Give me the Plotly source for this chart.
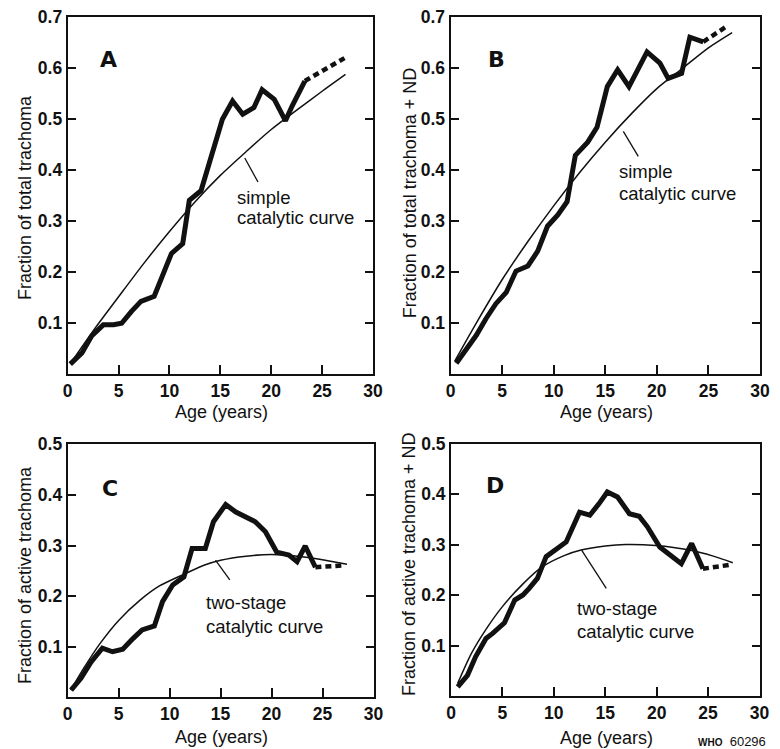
import plotly.graph_objects as go

W, H = 780, 749

# ---------------- data ----------------
A_age = [0.25, 1.4, 2.35, 3.5, 4.5, 5.3, 6.25, 7.2, 8.5, 9.35, 10.2, 11.3, 11.95, 13.1, 13.9, 15.2, 16.2, 17.2, 18.3, 19.1, 20.3, 21.4, 22.05, 23.3]
A_val = [0.02, 0.042, 0.075, 0.097, 0.097, 0.1, 0.123, 0.143, 0.153, 0.195, 0.237, 0.256, 0.341, 0.36, 0.415, 0.5, 0.536, 0.51, 0.523, 0.558, 0.539, 0.497, 0.526, 0.575]
A_ext_age = [23.3, 27.2]
A_ext_val = [0.575, 0.62]
A_fit_age = [0.3, 2.5, 5, 7.5, 10, 12.5, 15, 17.5, 20, 22.5, 25, 27.3]
A_fit_val = [0.022, 0.085, 0.152, 0.218, 0.28, 0.338, 0.39, 0.436, 0.48, 0.518, 0.555, 0.588]

B_age = [0.56, 1.53, 2.5, 3.45, 4.4, 5.4, 6.35, 7.5, 8.45, 9.4, 10.4, 11.3, 12.1, 13.3, 14.2, 15.2, 16.2, 17.3, 19.05, 20.3, 21.1, 22.4, 23.2, 24.5]
B_val = [0.021, 0.05, 0.076, 0.109, 0.138, 0.16, 0.202, 0.212, 0.241, 0.29, 0.312, 0.338, 0.429, 0.455, 0.484, 0.564, 0.597, 0.564, 0.632, 0.61, 0.58, 0.59, 0.661, 0.652]
B_ext_age = [24.5, 26.9]
B_ext_val = [0.652, 0.684]
B_fit_age = [0.4, 2.5, 5, 7.5, 10, 12.5, 15, 17.5, 20, 22.5, 25, 27.3]
B_fit_val = [0.025, 0.1, 0.185, 0.26, 0.33, 0.395, 0.455, 0.51, 0.56, 0.6, 0.64, 0.67]

C_age = [0.33, 1.3, 2.3, 3.4, 4.4, 5.4, 6.4, 7.3, 8.5, 9.3, 10.3, 11.4, 12.2, 13.5, 14.3, 15.5, 16.5, 17.4, 18.4, 19.4, 20.5, 21.7, 22.5, 23.3, 24.3]
C_val = [0.014, 0.0375, 0.07, 0.097, 0.09, 0.095, 0.116, 0.133, 0.141, 0.189, 0.222, 0.238, 0.294, 0.294, 0.347, 0.381, 0.366, 0.357, 0.347, 0.327, 0.287, 0.281, 0.268, 0.299, 0.257]
C_ext_age = [24.3, 27.2]
C_ext_val = [0.257, 0.261]
C_fit_age = [0.3, 1.5, 3.2, 5, 7.1, 9, 11.6, 13.5, 15, 17.5, 20, 22.5, 25, 27.4]
C_fit_val = [0.014, 0.055, 0.107, 0.152, 0.192, 0.22, 0.245, 0.262, 0.271, 0.279, 0.282, 0.279, 0.272, 0.263]

D_age = [0.65, 1.6, 2.4, 3.4, 4.05, 5.2, 6.2, 7.0, 7.6, 8.4, 9.25, 10.2, 11.2, 12.5, 13.5, 14.4, 15.2, 16.2, 17.35, 18.3, 19.1, 20.3, 21.2, 22.4, 23.4, 24.5]
D_val = [0.018, 0.041, 0.078, 0.114, 0.124, 0.145, 0.19, 0.2, 0.213, 0.233, 0.276, 0.289, 0.305, 0.364, 0.358, 0.381, 0.404, 0.394, 0.361, 0.356, 0.335, 0.295, 0.282, 0.262, 0.302, 0.252]
D_ext_age = [24.5, 27.2]
D_ext_val = [0.252, 0.26]
D_fit_age = [0.65, 2, 3.5, 5, 7, 8.9, 11, 12.65, 15, 17, 19.9, 23.2, 25.5, 27.4]
D_fit_val = [0.025, 0.085, 0.135, 0.177, 0.222, 0.256, 0.278, 0.289, 0.297, 0.3, 0.298, 0.289, 0.277, 0.264]

x_ticks = [0, 5, 10, 15, 20, 25, 30]
y_ticks_top = [0.1, 0.2, 0.3, 0.4, 0.5, 0.6, 0.7]
y_ticks_bot = [0.1, 0.2, 0.3, 0.4, 0.5]

panel_letters = ["A", "B", "C", "D"]
y_titles = ["Fraction of total trachoma", "Fraction of total trachoma + ND",
            "Fraction of active trachoma", "Fraction of active trachoma + ND"]
curve_labels = [("simple", "catalytic curve"), ("simple", "catalytic curve"),
                ("two-stage", "catalytic curve"), ("two-stage", "catalytic curve")]
x_title = "Age (years)"

# ---------------- style / layout ----------------
FONT = "Liberation Sans, Arial, sans-serif"
BLACK = "#111111"

def px(x):
    return x / W

def py(y):
    return 1 - y / H

# pixel boxes (left, right, top, bottom)
boxes = [(67.7, 373.0, 17.3, 374.3), (450.5, 760.0, 17.3, 374.0),
         (67.7, 373.5, 444.3, 697.3), (451.0, 759.5, 443.5, 696.0)]
yranges = [[0, 0.7], [0, 0.7], [0, 0.5], [0, 0.5]]
yticks = [y_ticks_top, y_ticks_top, y_ticks_bot, y_ticks_bot]

series = [
    (A_age, A_val, A_ext_age, A_ext_val, A_fit_age, A_fit_val),
    (B_age, B_val, B_ext_age, B_ext_val, B_fit_age, B_fit_val),
    (C_age, C_val, C_ext_age, C_ext_val, C_fit_age, C_fit_val),
    (D_age, D_val, D_ext_age, D_ext_val, D_fit_age, D_fit_val),
]

fig = go.Figure()
layout = dict(width=W, height=H, margin=dict(l=0, r=0, t=0, b=0, autoexpand=False),
              template="none",
              paper_bgcolor="white", plot_bgcolor="white", showlegend=False,
              font=dict(family=FONT, color=BLACK))

for i, (ag, va, eag, eva, fag, fva) in enumerate(series):
    n = "" if i == 0 else str(i + 1)
    xa, ya = "x" + n, "y" + n
    fig.add_trace(go.Scatter(x=fag, y=fva, mode="lines", xaxis=xa, yaxis=ya,
                             line=dict(color=BLACK, width=1.5, shape="spline", smoothing=0.8)))
    fig.add_trace(go.Scatter(x=ag, y=va, mode="lines", xaxis=xa, yaxis=ya,
                             line=dict(color=BLACK, width=5)))
    fig.add_trace(go.Scatter(x=eag, y=eva, mode="lines", xaxis=xa, yaxis=ya,
                             line=dict(color=BLACK, width=4.5, dash="6px,4px")))
    l, r, t, b = boxes[i]
    layout["xaxis" + n] = dict(
        domain=[px(l), px(r)], range=[0, 30], anchor=ya, automargin=False,
        showline=True, linewidth=2, linecolor=BLACK, mirror=True,
        ticks="inside", ticklen=9, tickwidth=2, tickcolor=BLACK,
        tickvals=x_ticks, ticktext=[str(v) for v in x_ticks],
        tickfont=dict(size=17.5, family=FONT, weight="bold"),
        showgrid=False, zeroline=False, fixedrange=True)
    layout["yaxis" + n] = dict(
        domain=[py(b), py(t)], range=yranges[i], anchor=xa, automargin=False,
        showline=True, linewidth=2, linecolor=BLACK, mirror="ticks",
        ticks="inside", ticklen=8, tickwidth=2, tickcolor=BLACK,
        tickvals=yticks[i], ticktext=["%.1f" % v for v in yticks[i]],
        tickfont=dict(size=17.5, family=FONT, weight="bold"),
        showgrid=False, zeroline=False, fixedrange=True)

ann = []
# panel letters
letter_pos = [(108, 60), (497, 60), (110, 488), (495, 485)]
for (x, y), s in zip(letter_pos, panel_letters):
    ann.append(dict(x=px(x), y=py(y), xref="paper", yref="paper", text="<b>%s</b>" % s,
                    showarrow=False, xanchor="center", yanchor="middle",
                    font=dict(size=22, family="DejaVu Sans, sans-serif", color=BLACK, weight=900)))
# y titles
ytitle_pos = [(25, 198), (410.8, 192.5), (25, 575), (409, 564)]
for (x, y), s in zip(ytitle_pos, y_titles):
    ann.append(dict(x=px(x), y=py(y), xref="paper", yref="paper", text=s, textangle=-90,
                    showarrow=False, xanchor="center", yanchor="middle",
                    font=dict(size=18, family=FONT, color=BLACK)))
# x titles
xtitle_pos = [(221, 411.7), (606.5, 411.7), (221, 737), (606.5, 738)]
for (x, y) in xtitle_pos:
    ann.append(dict(x=px(x), y=py(y), xref="paper", yref="paper", text=x_title,
                    showarrow=False, xanchor="center", yanchor="middle",
                    font=dict(size=18, family=FONT, color=BLACK)))
# curve labels
label_pos = [((235, 197), (235, 218)), ((616.7, 172), (616.7, 193)),
             ((204, 602), (204, 626)), ((575, 608), (575, 631))]
for (p1, p2), (s1, s2) in zip(label_pos, curve_labels):
    for (x, y), s in ((p1, s1), (p2, s2)):
        ann.append(dict(x=px(x), y=py(y), xref="paper", yref="paper", text=s,
                        showarrow=False, xanchor="left", yanchor="middle",
                        font=dict(size=18.5, family=FONT, color=BLACK)))
ann.append(dict(x=px(768), y=py(741), xref="paper", yref="paper",
                text="<b><span style='font-size:10px'>WHO</span></b>  60296",
                showarrow=False, xanchor="right", yanchor="middle",
                font=dict(size=13, family=FONT, color=BLACK)))
layout["annotations"] = ann

# leader lines from curves to labels (data coordinates)
pointers = [("x", "y", 17.4, 0.424, 18.7, 0.377),
            ("x2", "y2", 16.75, 0.476, 18.2, 0.427),
            ("x3", "y3", 14.5, 0.271, 15.9, 0.232),
            ("x4", "y4", 12.7, 0.289, 15.1, 0.213)]
layout["shapes"] = [dict(type="line", xref=a, yref=b, x0=x0, y0=y0, x1=x1, y1=y1,
                         line=dict(color=BLACK, width=1.3))
                    for a, b, x0, y0, x1, y1 in pointers]

fig.update_layout(**layout)
fig.write_html("out.html", config={"displayModeBar": False, "staticPlot": True},
               post_script="document.body.style.margin='0';document.body.style.overflow='hidden';")
